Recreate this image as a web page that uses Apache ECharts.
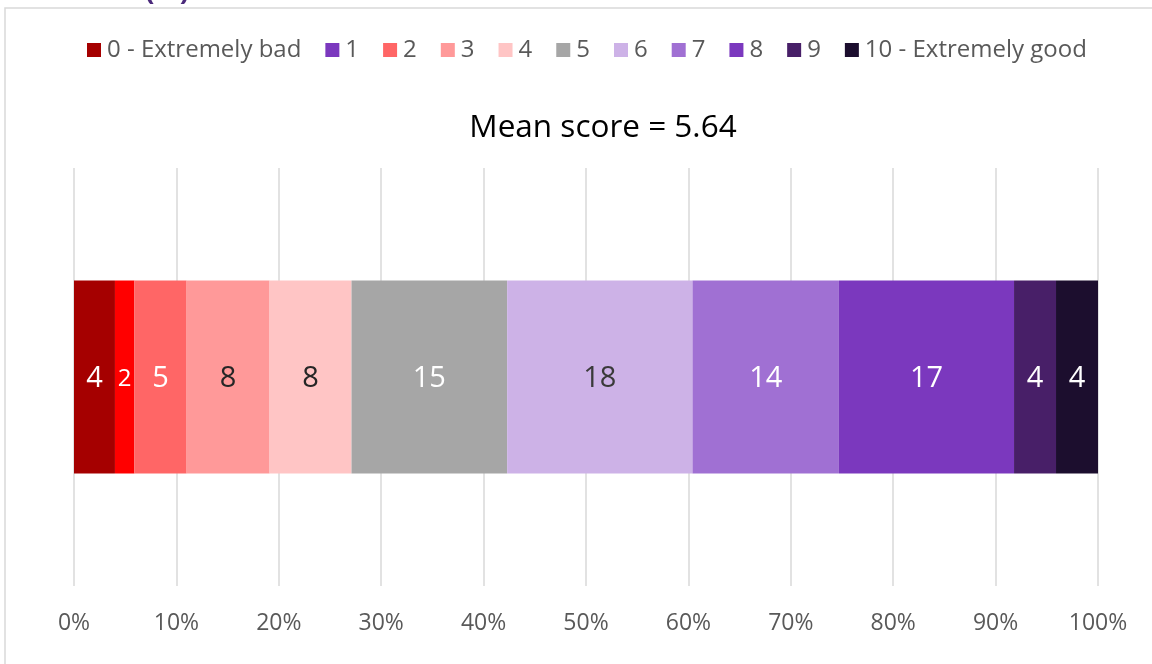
<!DOCTYPE html>
<html>
<head>
<meta charset="utf-8">
<script src="https://cdn.jsdelivr.net/npm/echarts@6/dist/echarts.min.js"></script>
<style>html,body{margin:0;padding:0;background:#fff}#c{width:1152px;height:664px}</style>
</head>
<body>
<div id="c"></div>
<script>
var scoreNames = ['0 - Extremely bad','1','2','3','4','5','6','7','8','9','10 - Extremely good'];
var scoreValues = [4.0, 1.9, 5.1, 8.1, 8.0, 15.2, 18.1, 14.3, 17.1, 4.1, 4.1];
var barColors = ['#A50000','#FF0000','#FF6666','#FF9999','#FFC5C5','#A6A6A6','#CDB2E7','#A070D3','#7B38BE','#481F68','#1C0E2E'];
var legendColors = ['#A50000','#7B38BE','#FF6666','#FF9999','#FFC5C5','#A6A6A6','#CDB2E7','#A070D3','#7B38BE','#481F68','#1C0E2E'];
var labelColors = ['#fff','#fff','#fff','#262626','#262626','#fff','#3a3a3a','#fff','#fff','#fff','#fff'];
var labelSizes = [29,24,29,29,29,29,29,29,29,29,29];
var xTicks = [0,10,20,30,40,50,60,70,80,90,100];
var titleText = 'Mean score = 5.64';

var FONT = '"Open Sans", "Noto Sans", sans-serif';
var chart = echarts.init(document.getElementById('c'), null, {renderer:'canvas'});
var series = scoreNames.map(function(n,i){
  return {
    name: n, type: 'bar', stack: 'all', barWidth: 193,
    data: [scoreValues[i]],
    itemStyle: {color: barColors[i]},
    label: {show: true, position: 'inside', offset: [0, 2], color: labelColors[i], fontSize: labelSizes[i], fontFamily: FONT,
      formatter: function(p){ return Math.round(p.value); }},
    emphasis: {disabled: true}
  };
});
chart.setOption({
  animation: false,
  textStyle: {fontFamily: FONT},
  legend: {
    top: 33, left: 82, itemWidth: 14, itemHeight: 14, itemGap: 24, icon: 'rect',
    textStyle: {fontSize: 24, color: '#595959', fontFamily: FONT, padding: [0,0,0,1]},
    data: scoreNames.map(function(n,i){ return {name: n, itemStyle: {color: legendColors[i]}}; })
  },
  grid: {left: 74, right: 54, top: 168, bottom: 78},
  xAxis: {
    type: 'value', min: 0, max: 100, interval: 10,
    axisLine: {show: false}, axisTick: {show: false},
    splitLine: {show: true, lineStyle: {color: '#D9D9D9', width: 1.5}},
    axisLabel: {formatter: '{value}%', fontSize: 23, color: '#595959', margin: 26, fontFamily: FONT,
      customValues: xTicks}
  },
  yAxis: {type: 'category', data: [''], show: false},
  graphic: [
    {type: 'rect', shape: {x: 5, y: 8, width: 1200, height: 700}, style: {fill: 'none', stroke: '#D9D9D9', lineWidth: 1.5}, silent: true},
    {type: 'text', left: 145, top: -22, style: {text: '(%)', fontSize: 28, fontWeight: 'bold', fill: '#4B2A7B', fontFamily: FONT}, silent: true},
    {type: 'text', x: 603, y: 128, style: {text: titleText, fontSize: 31.5, fill: '#000', fontFamily: FONT, textAlign: 'center', textVerticalAlign: 'middle'}, silent: true}
  ],
  series: series
});
</script>
</body>
</html>
